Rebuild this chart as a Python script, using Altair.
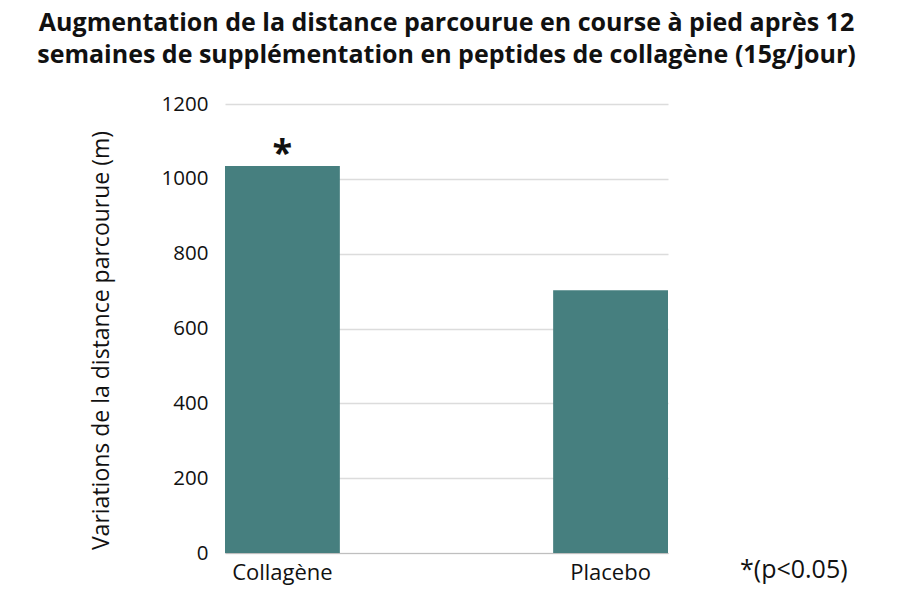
import altair as alt
import pandas as pd

categories = ["Collagène", "Placebo"]
values = [1034, 702]
stars = ["*", ""]
note_text = ["*(p<0.05)"]

df = pd.DataFrame({"groupe": categories, "variation": values, "star": stars})

FONT = "Open Sans"
BAR = "#467f7f"

x_enc = alt.X("groupe:N", sort=categories, title=None,
              scale=alt.Scale(paddingInner=0.65, paddingOuter=0),
              axis=alt.Axis(labelAngle=0, labelFontSize=22, labelColor="#111111",
                            labelFont=FONT, ticks=False, tickSize=0, labelPadding=9,
                            domainColor="#bfbfbf", domainWidth=1, grid=False))

y_enc = alt.Y("variation:Q", title="Variations de la distance parcourue (m)",
              scale=alt.Scale(domain=[0, 1200], nice=False),
              axis=alt.Axis(values=[0, 200, 400, 600, 800, 1000, 1200], format="d",
                            domain=False, ticks=False, tickSize=0, labelPadding=17,
                            labelFontSize=20.5, labelColor="#111111", labelFont=FONT,
                            titleFontSize=23, titleFont=FONT, titleFontWeight="normal",
                            titleColor="#111111", titlePadding=48, titleY=236,
                            titleAlign="center",
                            gridColor="#dcdcdc", gridWidth=1.5))

bars = alt.Chart(df).mark_bar(color=BAR).encode(x=x_enc, y=y_enc)

star = alt.Chart(df).mark_text(fontSize=36, fontWeight="bold", font=FONT,
                               color="#111111", baseline="alphabetic", dy=-1).encode(
    x=alt.X("groupe:N", sort=categories),
    y=alt.Y("variation:Q"),
    text="star:N",
)

note = alt.Chart(pd.DataFrame({"t": note_text})).mark_text(
    fontSize=25, font=FONT, color="#111111", align="left", baseline="middle"
).encode(x=alt.value(515), y=alt.value(466), text="t:N")

chart = alt.layer(bars, star, note).properties(
    width=443, height=449,
    background="white",
    title=alt.Title(
        ["Augmentation de la distance parcourue en course à pied après 12",
         "semaines de supplémentation en peptides de collagène (15g/jour)"],
        font=FONT, fontSize=25, fontWeight="bold", color="#111111",
        anchor="middle", lineHeight=32, offset=26,
    ),
    padding={"left": 217, "top": 96, "right": 216, "bottom": 40},
    autosize=alt.AutoSizeParams(type="none"),
).configure_view(stroke="transparent", strokeWidth=0).configure_axisX(grid=False)

chart.save("out.html", embed_options={"renderer": "svg", "actions": False})
